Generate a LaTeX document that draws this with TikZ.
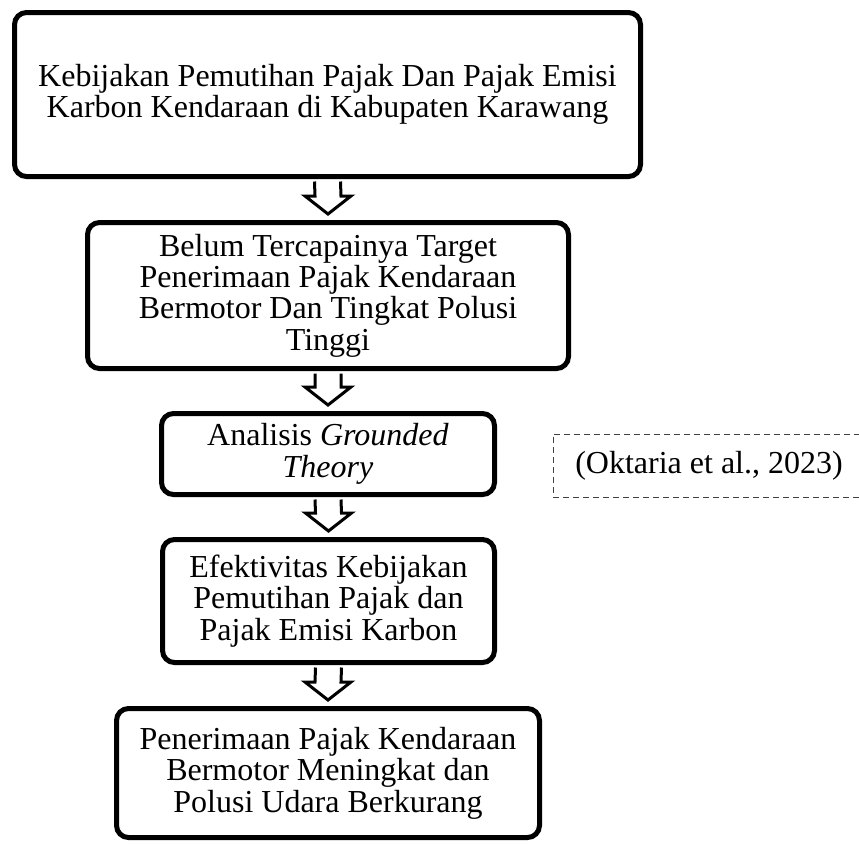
\documentclass[tikz,border=0pt]{standalone}
\usepackage{fontspec}
\setmainfont{Liberation Serif}
\usetikzlibrary{calc}

\tikzset{
  kotak/.style={draw, line width=2.5pt, rounded corners=6pt, align=center, inner sep=2pt,
    font=\fontsize{16}{15.7}\selectfont},
  panah/.style={draw, line width=1.5pt, fill=white, line join=miter},
  rujukan/.style={draw=black!75, line width=0.5pt, dash pattern=on 3pt off 2pt, align=center,
    font=\fontsize{16}{15.7}\selectfont}
}

\begin{document}
\begin{tikzpicture}[x=0.5pt, y=-0.5pt]
  % Batas gambar (satuan piksel)
  \clip (0,0) rectangle (859,843);

  % Kotak alur penelitian
  \node[kotak, minimum width=313pt, minimum height=82pt] (b1) at (327.5,94.5)
    {Kebijakan Pemutihan Pajak Dan Pajak Emisi\\Karbon Kendaraan di Kabupaten Karawang};
  \node[kotak, minimum width=240.5pt, minimum height=73pt] (b2) at (328,295.5)
    {Belum Tercapainya Target\\Penerimaan Pajak Kendaraan\\Bermotor Dan Tingkat Polusi\\Tinggi};
  \node[kotak, minimum width=166.5pt, minimum height=40.5pt] (b3) at (328,454)
    {Analisis \textit{Grounded}\\\textit{Theory}};
  \node[kotak, minimum width=166pt, minimum height=61.5pt] (b4) at (328.5,601)
    {Efektivitas Kebijakan\\Pemutihan Pajak dan\\Pajak Emisi Karbon};
  \node[kotak, minimum width=211.5pt, minimum height=64.5pt] (b5) at (328,773)
    {Penerimaan Pajak Kendaraan\\Bermotor Meningkat dan\\Polusi Udara Berkurang};

  % Rujukan
  \node[rujukan, minimum width=156pt, minimum height=31.5pt] (ref) at (709,465.5)
    {(Oktaria et al., 2023)};

  % Panah blok antar kotak
  \foreach \atas/\bawah in {b1/b2, b2/b3, b3/b4, b4/b5}
    \draw[panah] ($(\atas.south)+(-6.5pt,-1.25pt)$) -- ($(\bawah.north)+(-6.5pt,12pt)$)
      -- ($(\bawah.north)+(-11.5pt,12pt)$) -- ($(\bawah.north)+(0,3pt)$)
      -- ($(\bawah.north)+(11.5pt,12pt)$) -- ($(\bawah.north)+(6.5pt,12pt)$)
      -- ($(\atas.south)+(6.5pt,-1.25pt)$);
\end{tikzpicture}
\end{document}
